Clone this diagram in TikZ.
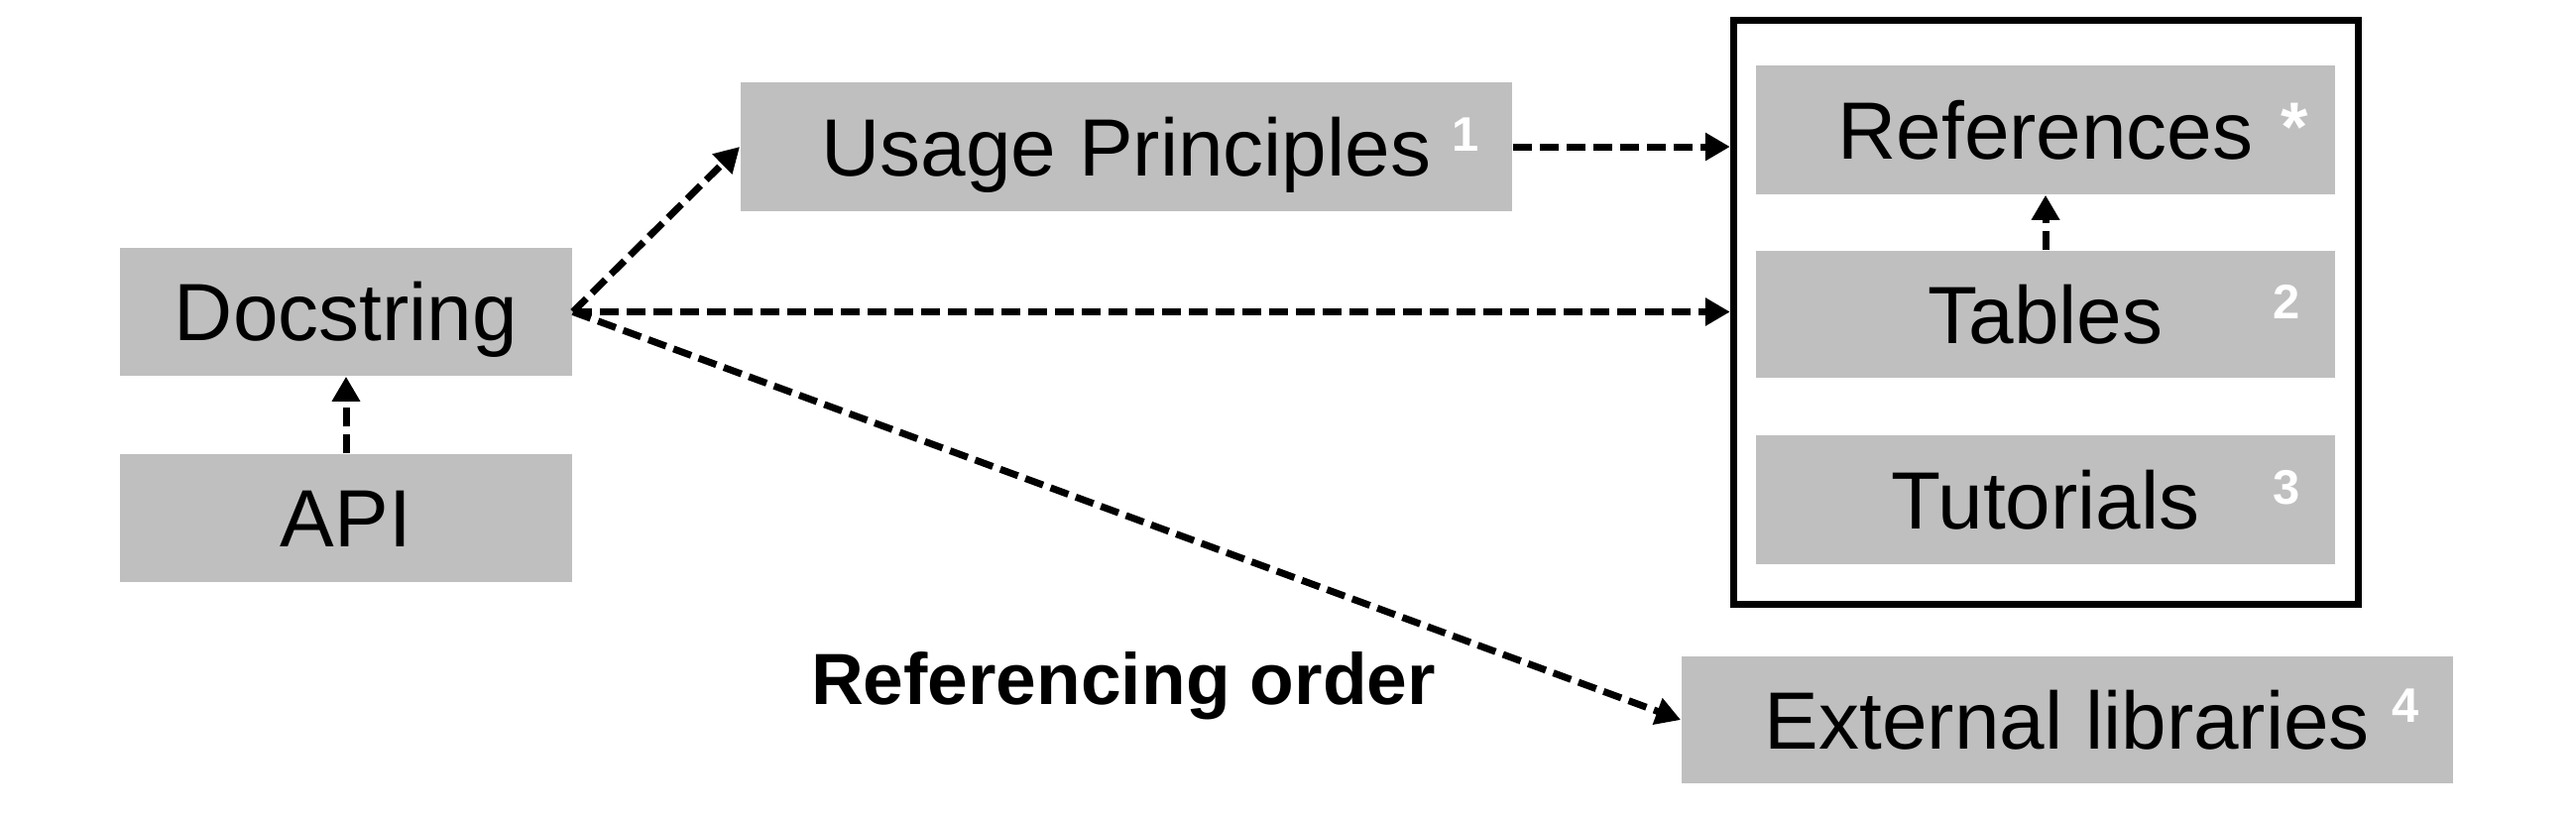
\documentclass[tikz,border=0pt]{standalone}
\usepackage{fontspec}
\setmainfont{Liberation Sans}
\usetikzlibrary{arrows.meta,calc}
\definecolor{boxgray}{HTML}{BFBFBF}
\begin{document}
\begin{tikzpicture}[x=0.01cm,y=-0.01cm,
  box/.style={fill=boxgray, draw=none, inner sep=0pt,
    font=\fontsize{23.3pt}{28pt}\selectfont, text height=0.587cm, text depth=0pt},
  supnum/.style={text=white, inner sep=0pt,
    font=\bfseries\fontsize{13.9pt}{16pt}\selectfont, text height=0.351cm, text depth=0pt},
  conn/.style={line width=0.07cm, dash pattern=on 0.19cm off 0.08cm,
    -{Triangle[length=0.25cm,width=0.27cm]}},
  grpframe/.style={draw, line width=0.07cm, fill=none}]
\useasboundingbox (0,0) rectangle (2598,827);
% group frame
\node[grpframe, minimum width=6.30cm, minimum height=5.89cm] (grp) at (2063.5,315) {};
% boxes
\node[box, minimum width=4.56cm, minimum height=1.29cm] (doc) at (349,314.5) {Docstring};
\node[box, minimum width=4.56cm, minimum height=1.29cm] (api) at (349,522.5) {API};
\node[box, minimum width=7.78cm, minimum height=1.30cm] (usage) at (1136,148) {Usage Principles};
\node[box, minimum width=5.84cm, minimum height=1.30cm] (refs) at (2063,131) {References};
\node[box, minimum width=5.84cm, minimum height=1.28cm] (tables) at (2063,317) {Tables};
\node[box, minimum width=5.84cm, minimum height=1.30cm] (tuts) at (2063,504) {Tutorials};
\node[box, minimum width=7.78cm, minimum height=1.28cm] (ext) at (2085,726) {External libraries};
% superscripts
\node[supnum] (s1) at (1478,135) {1};
\node[supnum, anchor=base, font=\bfseries\fontsize{20pt}{24pt}\selectfont] (sstar) at (2314,152) {*};
\node[supnum] (s2) at (2306,304) {2};
\node[supnum] (s3) at (2306,491) {3};
\node[supnum] (s4) at (2426,711) {4};
% label
\node[inner sep=0pt, font=\bfseries\fontsize{20.8pt}{24pt}\selectfont,
  text height=0.523cm, text depth=0pt] (lbl) at (1133,684) {Referencing order};
% connectors
\draw[conn] (api.north) -- (doc.south);
\draw[conn] (doc.east) -- (usage.west);
\draw[conn] (doc.east) -- (doc.east -| grp.west);
\draw[conn] (usage.east) -- (usage.east -| grp.west);
\draw[conn] (doc.east) -- (ext.west);
\draw[conn] (tables.north) -- (refs.south);
\end{tikzpicture}
\end{document}
